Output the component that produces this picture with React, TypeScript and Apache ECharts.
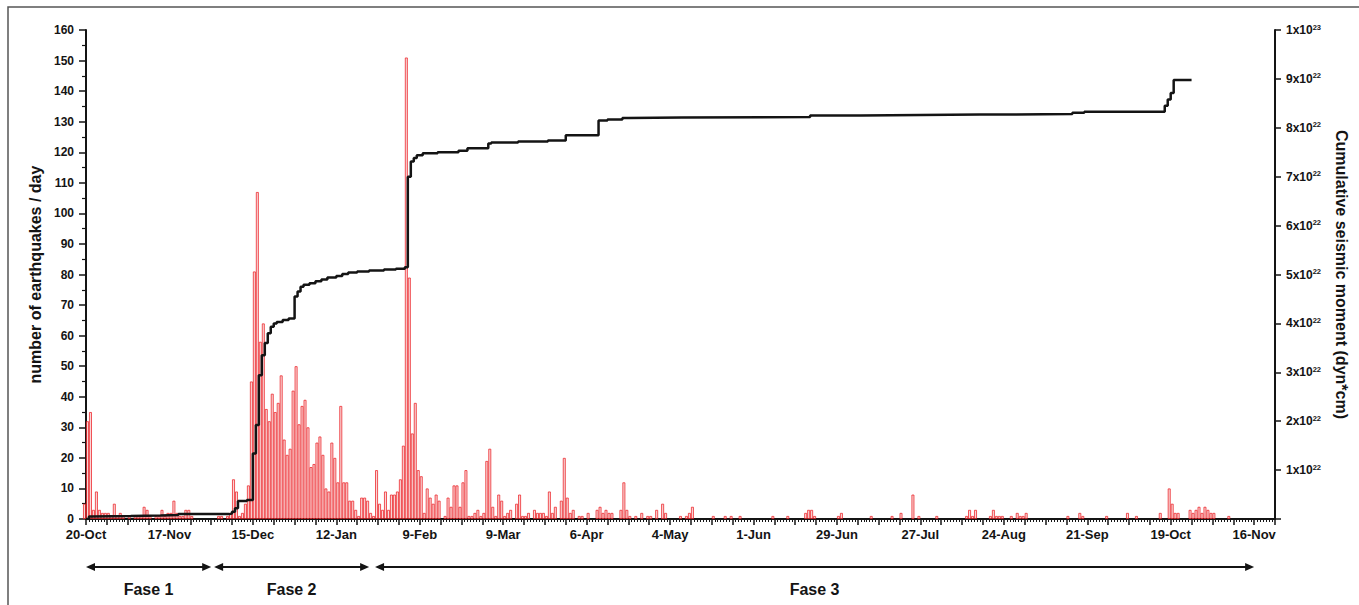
import React, { useEffect, useRef } from 'react';
import * as echarts from 'echarts';

// ---------------- data ----------------
// daily number of earthquakes, first value = day -1 (19-Oct), day 0 = 20-Oct
const FIRST_DAY = -1;
const DAILY_COUNTS = [
  5,
  32, 35, 3, 9, 3, 2, 2, 2, 1, 5,        // d0-9
  1, 2, 1, 0, 1, 0, 1, 1, 1, 4,          // d10-19
  3, 1, 0, 1, 1, 3, 1, 2, 2, 6,          // d20-29
  2, 1, 1, 3, 3, 1, 0, 0, 0, 0,          // d30-39
  0, 0, 0, 0, 1, 1, 0, 1, 2, 13,         // d40-49
  9, 1, 2, 5, 11, 45, 81, 107, 58, 64,   // d50-59
  36, 32, 41, 35, 38, 47, 26, 21, 23, 42, // d60-69
  50, 31, 37, 39, 30, 17, 18, 25, 27, 21, // d70-79
  10, 9, 25, 20, 12, 37, 12, 12, 6, 6,   // d80-89
  3, 1, 7, 7, 6, 2, 1, 16, 5, 3,         // d90-99
  9, 3, 8, 8, 9, 13, 24, 151, 79, 28,    // d100-109
  38, 16, 14, 2, 10, 7, 5, 8, 6, 0,      // d110-119
  1, 7, 4, 11, 11, 4, 12, 16, 1, 1,      // d120-129
  2, 3, 1, 2, 19, 23, 4, 1, 8, 6,        // d130-139
  1, 2, 3, 0, 5, 8, 1, 1, 2, 0,          // d140-149
  3, 2, 2, 2, 1, 9, 2, 4, 0, 6,          // d150-159
  20, 7, 2, 3, 0, 1, 1, 0, 2, 0,         // d160-169
  0, 3, 4, 2, 3, 2, 2, 0, 0, 3,          // d170-179
  12, 3, 1, 0, 1, 0, 2, 0, 1, 1,         // d180-189
  0, 3, 0, 5, 2, 0, 0, 0, 0, 1,          // d190-199
  0, 1, 2, 4, 0, 0, 0, 0, 0, 0,          // d200-209
  1, 0, 0, 0, 1, 0, 1, 0, 0, 1,          // d210-219
  0, 0, 0, 0, 0, 0, 0, 0, 0, 0,          // d220-229
  1, 0, 0, 0, 0, 1, 0, 0, 0, 0,          // d230-239
  0, 2, 3, 3, 1, 0, 0, 0, 0, 0,          // d240-249
  0, 0, 1, 2, 0, 0, 0, 0, 0, 0,          // d250-259
  0, 0, 0, 1, 0, 0, 0, 0, 0, 0,          // d260-269
  1, 0, 0, 2, 0, 0, 0, 8, 0, 1,          // d270-279
  0, 0, 0, 0, 0, 1, 0, 0, 0, 0,          // d280-289
  0, 0, 0, 0, 0, 1, 3, 1, 3, 0,          // d290-299
  0, 0, 0, 1, 3, 1, 1, 1, 0, 0,          // d300-309
  1, 0, 2, 1, 1, 2, 0, 0, 0, 0,          // d310-319
  0, 0, 0, 0, 0, 0, 0, 0, 0, 1,          // d320-329
  0, 0, 0, 2, 1, 0, 0, 0, 0, 0,          // d330-339
  0, 0, 1, 0, 0, 0, 0, 0, 0, 2,          // d340-349
  0, 0, 1, 0, 0, 0, 0, 0, 0, 0,          // d350-359
  2, 0, 0, 10, 5, 2, 2, 0, 0, 0,         // d360-369
  3, 2, 3, 4, 2, 4, 3, 2, 2, 0,          // d370-379
  0, 0, 0, 1,                            // d380-383
];

// cumulative seismic moment (units of 1x10^22 dyn*cm), step changes at these days
const CUM_DAYS = [
  0, 1, 2, 15, 25, 31, 48, 49, 50, 51,
  54, 56, 57, 58, 59, 60, 61, 62, 63, 64,
  66, 68, 70, 71, 72, 73, 75, 77, 79, 81,
  84, 86, 88, 91, 95, 100, 104, 107, 108, 109,
  110, 111, 113, 118, 125, 128, 135, 136, 145, 155,
  161, 172, 175, 180, 182, 200, 243, 260, 280, 300,
  331, 335, 361, 362, 363, 364, 365, 371,
];
const CUM_MOMENT = [
  0, 0.05, 0.06, 0.07, 0.08, 0.1, 0.11, 0.15, 0.22, 0.37,
  0.39, 1.34, 1.92, 2.94, 3.35, 3.6, 3.8, 3.93, 4.0, 4.03,
  4.07, 4.1, 4.55, 4.65, 4.75, 4.79, 4.82, 4.86, 4.9, 4.94,
  4.97, 5.01, 5.04, 5.06, 5.08, 5.1, 5.12, 5.15, 7.0, 7.31,
  7.38, 7.44, 7.48, 7.5, 7.53, 7.58, 7.68, 7.7, 7.72, 7.74,
  7.85, 8.15, 8.17, 8.2, 8.21, 8.22, 8.25, 8.26, 8.27, 8.28,
  8.31, 8.33, 8.33, 8.45, 8.58, 8.71, 8.98, 8.99,
];

// x tick labels every 28 days starting at day 0
const DATE_LABELS = [
  '20-Oct', '17-Nov', '15-Dec', '12-Jan', '9-Feb', '9-Mar', '6-Apr', '4-May',
  '1-Jun', '29-Jun', '27-Jul', '24-Aug', '21-Sep', '19-Oct', '16-Nov',
];
const LABEL_STEP_DAYS = 28;

// phases (day ranges)
const PHASE_NAMES = ['Fase 1', 'Fase 2', 'Fase 3'];
const PHASE_START = [0, 43, 97];
const PHASE_END = [42, 95, 392];

// ---------------- layout ----------------
const WIDTH = 1359;
const HEIGHT = 605;
const GRID = { left: 86, right: 84, top: 30, bottom: 86 };
const X_MIN = 0;
const X_MAX = 399;
const FONT = '"Liberation Sans", Arial, Helvetica, sans-serif';
const INK = '#141414';

export default function App() {
  const ref = useRef<HTMLDivElement>(null);

  useEffect(() => {
    const el = ref.current;
    if (!el) return;
    const chart = echarts.init(el, null, { renderer: 'svg' });
    const plotW = WIDTH - GRID.left - GRID.right;
    const barW = plotW / (X_MAX - X_MIN);

    // days without events draw no bar
    const barData = DAILY_COUNTS.map((v, i) => [FIRST_DAY + i + 0.5, v]).filter((p) => p[1] > 0);
    const lineData = CUM_DAYS.map((d, i) => [d, CUM_MOMENT[i]]);

    const axisLine = { show: true, onZero: false, lineStyle: { color: INK, width: 2 } };

    chart.setOption({
      animation: false,
      backgroundColor: '#ffffff',
      grid: { ...GRID, containLabel: false },
      xAxis: {
        type: 'value',
        min: X_MIN,
        max: X_MAX,
        interval: 7,
        axisLine,
        axisTick: { show: true, length: 6, lineStyle: { color: INK, width: 1.5 } },
        minorTick: { show: true, splitNumber: 7, length: 3, lineStyle: { color: INK, width: 1 } },
        splitLine: { show: false },
        minorSplitLine: { show: false },
        axisLabel: {
          formatter: (v: number) =>
            v % LABEL_STEP_DAYS === 0 ? DATE_LABELS[v / LABEL_STEP_DAYS] ?? '' : '',
          fontFamily: FONT,
          fontWeight: 'bold',
          fontSize: 13,
          color: INK,
          margin: 9,
        },
      },
      yAxis: [
        {
          type: 'value',
          position: 'left',
          min: 0,
          max: 160,
          interval: 10,
          name: 'number of earthquakes / day',
          nameLocation: 'middle',
          nameGap: 43,
          nameTextStyle: { fontFamily: FONT, fontWeight: 'bold', fontSize: 16, color: INK },
          axisLine,
          axisTick: { show: true, length: 7, lineStyle: { color: INK, width: 1.5 } },
          minorTick: { show: true, splitNumber: 2, length: 4, lineStyle: { color: INK, width: 1.2 } },
          splitLine: { show: false },
          axisLabel: { fontFamily: FONT, fontWeight: 'bold', fontSize: 12, color: INK, margin: 12 },
        },
        {
          type: 'value',
          position: 'right',
          min: 0,
          max: 10,
          interval: 1,
          name: 'Cumulative seismic moment (dyn*cm)',
          nameLocation: 'middle',
          nameRotate: -90,
          nameGap: 58,
          nameTextStyle: { fontFamily: FONT, fontWeight: 'bold', fontSize: 16, color: INK },
          axisLine,
          axisTick: { show: true, length: 6, lineStyle: { color: INK, width: 1.5 } },
          splitLine: { show: false },
          axisLabel: {
            margin: 11,
            formatter: (v: number) =>
              v === 0 ? '' : v === 10 ? '{m|1x10}{e|23}' : `{m|${v}x10}{e|22}`,
            rich: {
              m: { fontFamily: FONT, fontWeight: 'bold', fontSize: 12, color: INK, lineHeight: 14 },
              e: {
                fontFamily: FONT,
                fontWeight: 'bold',
                fontSize: 7.5,
                color: INK,
                verticalAlign: 'top',
                lineHeight: 9,
              },
            },
          },
        },
      ],
      series: [
        {
          type: 'bar',
          xAxisIndex: 0,
          yAxisIndex: 0,
          data: barData,
          barWidth: barW,
          clip: false,
          itemStyle: {
            color: 'rgba(242,165,165,0.45)',
            borderColor: 'rgba(236,34,40,0.85)',
            borderWidth: 0.9,
          },
          z: 2,
        },
        {
          type: 'line',
          xAxisIndex: 0,
          yAxisIndex: 1,
          data: lineData,
          step: 'end',
          showSymbol: false,
          symbol: 'none',
          lineStyle: { color: INK, width: 2.5 },
          z: 5,
        },
      ],
    });

    const px = (d: number) => chart.convertToPixel({ xAxisIndex: 0 }, d) as number;
    const arrowY = 567;
    const textY = 589;
    const graphics: any[] = [
      {
        type: 'rect',
        silent: true,
        shape: { x: 8, y: 7, width: 1400, height: 700 },
        style: { fill: 'none', stroke: '#555555', lineWidth: 1.5 },
      },
    ];
    PHASE_NAMES.forEach((name, i) => {
      const xs = px(PHASE_START[i]);
      const xe = px(PHASE_END[i]);
      graphics.push(
        {
          type: 'line',
          silent: true,
          shape: { x1: xs + 4, y1: arrowY, x2: xe - 4, y2: arrowY },
          style: { stroke: INK, lineWidth: 2 },
        },
        {
          type: 'polygon',
          silent: true,
          shape: { points: [[xs, arrowY], [xs + 9, arrowY - 4], [xs + 9, arrowY + 4]] },
          style: { fill: INK },
        },
        {
          type: 'polygon',
          silent: true,
          shape: { points: [[xe, arrowY], [xe - 9, arrowY - 4], [xe - 9, arrowY + 4]] },
          style: { fill: INK },
        },
        {
          type: 'text',
          silent: true,
          x: (xs + xe) / 2,
          y: textY,
          style: {
            text: name,
            fontFamily: FONT,
            fontWeight: 'bold',
            fontSize: 16,
            fill: INK,
            textAlign: 'center',
            textVerticalAlign: 'middle',
          },
        }
      );
    });
    chart.setOption({ graphic: graphics });

    return () => chart.dispose();
  }, []);

  return (
    <div
      ref={ref}
      style={{ position: 'absolute', left: 0, top: 0, width: WIDTH, height: HEIGHT }}
    />
  );
}
